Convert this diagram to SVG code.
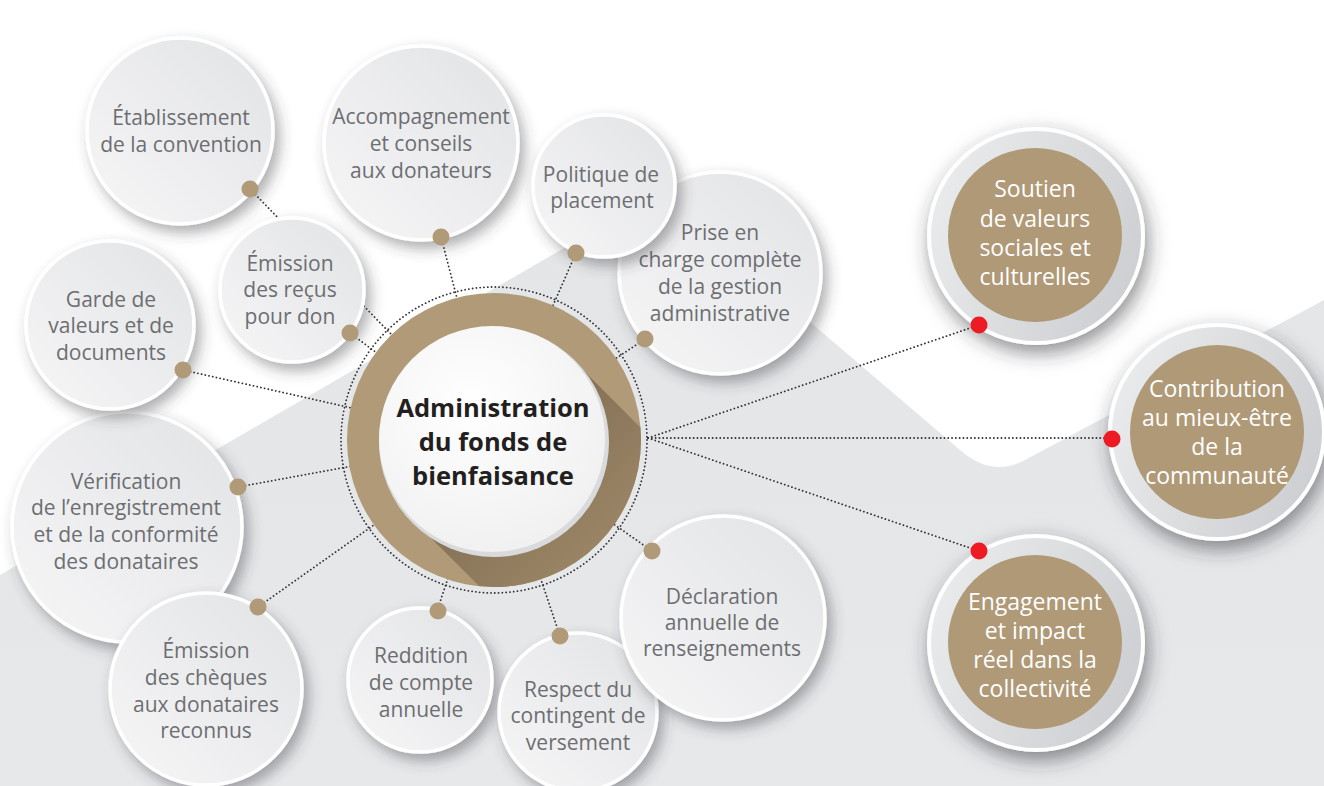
<svg xmlns="http://www.w3.org/2000/svg" width="1324" height="786" viewBox="0 0 1324 786">
<defs>
<style>
.t{font-family:"Open Sans","Liberation Sans",sans-serif;font-size:21px;fill:#6d6e71;text-anchor:middle}
.w{font-family:"Open Sans","Liberation Sans",sans-serif;font-size:23px;fill:#ffffff;text-anchor:middle}
.c{font-family:"Open Sans","Liberation Sans",sans-serif;font-size:25.5px;font-weight:700;fill:#231f20;text-anchor:middle}
.node{fill:url(#gg);stroke:#ffffff;stroke-width:3.5;filter:url(#sh)}
.outer{fill:url(#go);stroke:#ffffff;stroke-width:4;filter:url(#sh2)}
.inner{fill:#af9977}
.dot{fill:#b09a78}
.red{fill:#ed1c24}
.conn{fill:none;stroke:#333338;stroke-width:1.8;stroke-dasharray:0.1 3.7;stroke-linecap:round}
</style>
<linearGradient id="gg" x1="0" y1="1" x2="1" y2="0">
<stop offset="0" stop-color="#f6f6f7"/>
<stop offset="1" stop-color="#e2e3e5"/>
</linearGradient>
<linearGradient id="go" x1="0" y1="0.3" x2="1" y2="0.7">
<stop offset="0" stop-color="#eaebec"/>
<stop offset="1" stop-color="#cdced1"/>
</linearGradient>
<linearGradient id="gbg" x1="0" y1="0" x2="0" y2="1">
<stop offset="0" stop-color="#e4e5e7"/>
<stop offset="1" stop-color="#e7e8ea"/>
</linearGradient>
<radialGradient id="gin" cx="0.4" cy="0.35" r="0.7">
<stop offset="0" stop-color="#ffffff"/>
<stop offset="1" stop-color="#f0f0f1"/>
</radialGradient>
<linearGradient id="gsh" gradientUnits="userSpaceOnUse" x1="520" y1="440" x2="650" y2="570">
<stop offset="0" stop-color="#857156"/>
<stop offset="1" stop-color="#a28c6b"/>
</linearGradient>
<clipPath id="ring"><circle cx="494" cy="440" r="147"/></clipPath>
<filter id="sh" x="-30%" y="-30%" width="170%" height="170%">
<feDropShadow dx="5" dy="7" stdDeviation="7" flood-color="#3c3c44" flood-opacity="0.42"/>
</filter>
<filter id="sh2" x="-30%" y="-30%" width="170%" height="170%">
<feDropShadow dx="3" dy="8" stdDeviation="10" flood-color="#303038" flood-opacity="0.55"/>
</filter>
</defs>

<rect x="0" y="0" width="1324" height="786" fill="#ffffff"/>
<path d="M0,575 L659,193 L960,450 Q992,478 1025,460 L1324,300 L1324,786 L0,786 Z" fill="url(#gbg)"/>

<g id="connectors">
<line class="conn" x1="250" y1="189" x2="494" y2="440"/>
<line class="conn" x1="441" y1="237" x2="494" y2="440"/>
<line class="conn" x1="576" y1="253" x2="494" y2="440"/>
<line class="conn" x1="645" y1="339" x2="494" y2="440"/>
<line class="conn" x1="350" y1="333" x2="494" y2="440"/>
<line class="conn" x1="183" y1="370" x2="494" y2="440"/>
<line class="conn" x1="238" y1="487" x2="494" y2="440"/>
<line class="conn" x1="258" y1="607" x2="494" y2="440"/>
<line class="conn" x1="437" y1="611" x2="494" y2="440"/>
<line class="conn" x1="560" y1="636" x2="494" y2="440"/>
<line class="conn" x1="652" y1="551" x2="494" y2="440"/>
<line class="conn" x1="648" y1="438" x2="979" y2="325"/>
<line class="conn" x1="648" y1="438" x2="1111" y2="438"/>
<line class="conn" x1="648" y1="438" x2="979" y2="551"/>
<circle class="conn" cx="494" cy="440" r="153"/>
</g>

<g id="center">
<circle cx="494" cy="440" r="147" fill="#b09a78"/>
<polygon points="572,359 792,579 632,739 412,519" fill="url(#gsh)" clip-path="url(#ring)"/>
<circle cx="494" cy="442" r="115" fill="#d9dadc"/>
<circle cx="492" cy="439" r="113" fill="url(#gin)"/>
<text class="c" x="493" y="417">Administration</text>
<text class="c" x="493" y="451">du fonds de</text>
<text class="c" x="493" y="485">bienfaisance</text>
</g>

<g id="n-etablissement">
<circle class="node" cx="180" cy="131" r="93"/>
<text class="t" x="181" y="125">Établissement</text>
<text class="t" x="181" y="152">de la convention</text>
<circle class="dot" cx="250" cy="189" r="8.5"/>
</g>

<g id="n-accompagnement">
<circle class="node" cx="421" cy="143" r="97"/>
<text class="t" x="421" y="124">Accompagnement</text>
<text class="t" x="421" y="151">et conseils</text>
<text class="t" x="421" y="178">aux donateurs</text>
<circle class="dot" cx="441" cy="237" r="8.5"/>
</g>

<g id="n-prise">
<circle class="node" cx="720" cy="273" r="101"/>
<text class="t" x="720" y="240">Prise en</text>
<text class="t" x="720" y="267">charge complète</text>
<text class="t" x="720" y="294">de la gestion</text>
<text class="t" x="720" y="321">administrative</text>
<circle class="dot" cx="645" cy="339" r="8.5"/>
</g>

<g id="n-politique">
<circle class="node" cx="604" cy="186" r="71"/>
<text class="t" x="601" y="182">Politique de</text>
<text class="t" x="602" y="208">placement</text>
<circle class="dot" cx="576" cy="253" r="8.5"/>
</g>

<g id="n-recus">
<circle class="node" cx="292" cy="290" r="72"/>
<text class="t" x="290" y="271">Émission</text>
<text class="t" x="290" y="297">des reçus</text>
<text class="t" x="290" y="324">pour don</text>
<circle class="dot" cx="350" cy="333" r="8.5"/>
</g>

<g id="n-verification">
<circle class="node" cx="127" cy="527" r="115"/>
<text class="t" x="126" y="489">Vérification</text>
<text class="t" x="126" y="515">de l’enregistrement</text>
<text class="t" x="126" y="542">et de la conformité</text>
<text class="t" x="126" y="569">des donataires</text>
<circle class="dot" cx="238" cy="487" r="8.5"/>
</g>

<g id="n-garde">
<circle class="node" cx="110" cy="325" r="84"/>
<text class="t" x="111" y="307">Garde de</text>
<text class="t" x="111" y="333">valeurs et de</text>
<text class="t" x="111" y="360">documents</text>
<circle class="dot" cx="183" cy="370" r="8.5"/>
</g>

<g id="n-cheques">
<circle class="node" cx="206" cy="689" r="96"/>
<text class="t" x="206" y="658">Émission</text>
<text class="t" x="206" y="685">des chèques</text>
<text class="t" x="206" y="712">aux donataires</text>
<text class="t" x="206" y="738">reconnus</text>
<circle class="dot" cx="258" cy="607" r="8.5"/>
</g>

<g id="n-reddition">
<circle class="node" cx="420" cy="680" r="72"/>
<text class="t" x="421" y="663">Reddition</text>
<text class="t" x="421" y="690">de compte</text>
<text class="t" x="421" y="717">annuelle</text>
<circle class="dot" cx="438" cy="611" r="8.5"/>
</g>

<g id="n-respect">
<circle class="node" cx="578" cy="712" r="79"/>
<text class="t" x="578" y="697">Respect du</text>
<text class="t" x="578" y="723">contingent de</text>
<text class="t" x="578" y="750">versement</text>
<circle class="dot" cx="560" cy="636" r="8.5"/>
</g>

<g id="n-declaration">
<circle class="node" cx="723" cy="618" r="102"/>
<text class="t" x="722" y="604">Déclaration</text>
<text class="t" x="722" y="630">annuelle de</text>
<text class="t" x="722" y="656">renseignements</text>
<circle class="dot" cx="652" cy="551" r="8.5"/>
</g>

<g id="r-soutien">
<circle class="outer" cx="1036" cy="236" r="107"/>
<circle class="inner" cx="1035" cy="235" r="87"/>
<text class="w" x="1035" y="197">Soutien</text>
<text class="w" x="1035" y="227">de valeurs</text>
<text class="w" x="1035" y="256">sociales et</text>
<text class="w" x="1035" y="285">culturelles</text>
<circle class="red" cx="979" cy="325" r="8.5"/>
</g>

<g id="r-contribution">
<circle class="outer" cx="1217" cy="432" r="107"/>
<circle class="inner" cx="1217" cy="432" r="87"/>
<text class="w" x="1217" y="397">Contribution</text>
<text class="w" x="1217" y="426">au mieux-être</text>
<text class="w" x="1217" y="455">de la</text>
<text class="w" x="1217" y="484">communauté</text>
<circle class="red" cx="1112" cy="439" r="8.5"/>
</g>

<g id="r-engagement">
<circle class="outer" cx="1036" cy="643" r="107"/>
<circle class="inner" cx="1035" cy="642" r="87"/>
<text class="w" x="1035" y="610">Engagement</text>
<text class="w" x="1035" y="639">et impact</text>
<text class="w" x="1035" y="668">réel dans la</text>
<text class="w" x="1035" y="697">collectivité</text>
<circle class="red" cx="979" cy="551" r="8.5"/>
</g>
</svg>
